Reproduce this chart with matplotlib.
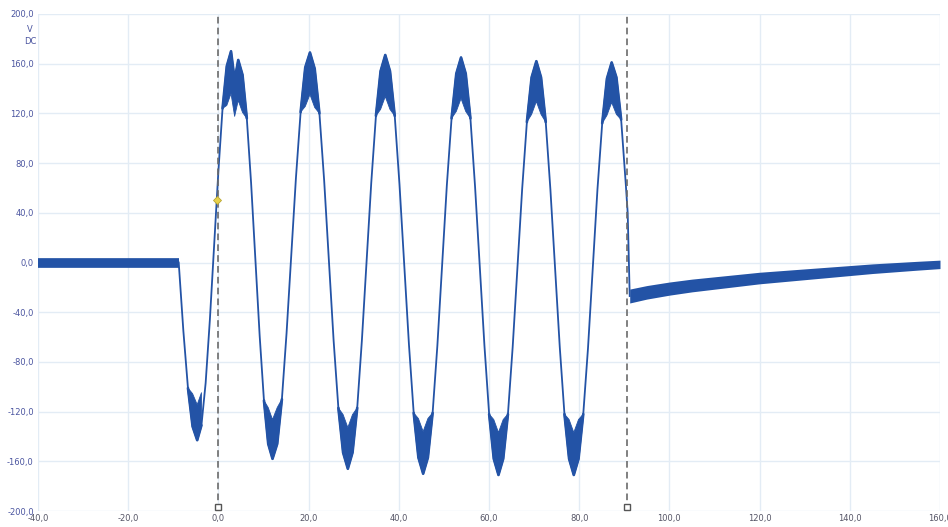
import matplotlib
matplotlib.use("Agg")
import matplotlib.pyplot as plt
import numpy as np
from matplotlib.ticker import FuncFormatter

# ---- data (time in ms, voltage in V) ----
flat_t = [-40.0, -8.8]
flat_v = [0.0, 0.0]

wave_t = [-8.8, -7.77, -6.75, -5.72,
          -4.7, -3.76, -2.83, -1.89, -0.95, -0.01, 0.92, 1.86, 2.8,
          3.6, 4.4, 5.35, 6.3, 7.25, 8.2, 9.15, 10.1, 11.05,
          12.0, 13.04, 14.08, 15.11, 16.15, 17.19, 18.23, 19.26,
          20.3, 21.35, 22.4, 23.45, 24.5, 25.55, 26.6, 27.65,
          28.7, 29.74, 30.78, 31.81, 32.85, 33.89, 34.93, 35.96,
          37.0, 38.05, 39.1, 40.15, 41.2, 42.25, 43.3, 44.35,
          45.4, 46.45, 47.5, 48.55, 49.6, 50.65, 51.7, 52.75,
          53.8, 54.84, 55.88, 56.91, 57.95, 58.99, 60.03, 61.06,
          62.1, 63.15, 64.2, 65.25, 66.3, 67.35, 68.4, 69.45,
          70.5, 71.54, 72.58, 73.61, 74.65, 75.69, 76.73, 77.76,
          78.8, 79.85, 80.9, 81.95, 83.0, 84.05, 85.1, 86.15,
          87.2, 88.25, 89.3, 90.35, 90.75, 91.2]
wave_v = [0, -55, -101, -132,
          -143, -131, -97, -46, 13.5, 73, 124, 158, 170,
          147, 163, 151, 116, 64, 2.5, -59, -111, -146,
          -158, -146, -110, -57, 5.5, 68, 121, 157,
          169, 156, 120, 66, 1.5, -63, -117, -153,
          -166, -153, -117, -63, 0.5, 64, 118, 154,
          167, 154, 118, 63, -1.5, -66, -121, -157,
          -170, -157, -121, -67, -2.5, 62, 116, 152,
          165, 152, 116, 61, -3, -67, -122, -158,
          -171, -158, -122, -68, -4.5, 59, 113, 149,
          162, 149, 113, 59, -4.5, -68, -122, -158,
          -171, -158, -122, -69, -5, 59, 112, 148,
          161, 149, 115, 62, 40, -27]

decay_t = [91.2, 95, 100, 105, 110, 115, 120, 125, 130, 135, 140, 145, 150, 155, 160]
decay_v = [-27, -24, -21, -18.5, -16.5, -14.5, -12.5, -11, -9.5, -8, -6.5, -5, -3.8, -2.6, -1.5]

cursor_x = [0.0, 90.6]
marker_pt = (-0.3, 50.0)

x_ticks = [-40, -20, 0, 20, 40, 60, 80, 100, 120, 140, 160]
y_ticks = [-200, -160, -120, -80, -40, 0, 40, 80, 120, 160, 200]

# ---- figure ----
W, H = 948, 527
fig = plt.figure(figsize=(W / 100, H / 100), dpi=100)
ax = fig.add_axes([38 / W, 1 - 511 / H, (940 - 38) / W, (511 - 14) / H])

blue = "#2353a6"
ax.set_xlim(-40, 160)
ax.set_ylim(-200, 200)
ax.set_xticks(x_ticks)
ax.set_yticks(y_ticks)
ax.grid(True, which="major", color="#e3ecf5", lw=1.0)
ax.set_axisbelow(True)
for s in ax.spines.values():
    s.set_visible(False)

fmt = FuncFormatter(lambda v, p: f"{v:.1f}".replace(".", ","))
ax.xaxis.set_major_formatter(fmt)
ax.yaxis.set_major_formatter(fmt)
ax.tick_params(which="both", length=0)
ax.tick_params(axis="y", labelsize=6, labelcolor="#4b55a0", pad=3)
ax.tick_params(axis="x", labelsize=6, labelcolor="#555566", pad=2)

# traces
ax.plot(flat_t, flat_v, color=blue, lw=7, solid_capstyle="butt")
wt = np.array(wave_t)
wv = np.array(wave_v, dtype=float)
ax.plot(wt, wv, color=blue, lw=1.3)
# noisy band around each peak and trough (tapered at both ends)
inner = np.where(np.abs(wv) >= 128, wv * 0.8, wv)
ax.fill_between(wt, wv, inner, where=np.abs(wv) >= 100, interpolate=False,
                color=blue, lw=0.6, edgecolor=blue)
mid = np.where(np.abs(wv) >= 100, wv, np.nan)
ax.plot(wt, mid, color=blue, lw=1.9, solid_capstyle="round", solid_joinstyle="round")

dt = np.array(decay_t)
dv = np.array(decay_v)
half = np.linspace(5.6, 3.4, len(dt))
ax.fill_between(dt, dv - half, dv + half, color=blue, lw=0)

# cursors
for cx in cursor_x:
    ax.axvline(cx, color="#6b6b6b", lw=1.2, dashes=(4, 2.5), zorder=5)
    ax.plot([cx], [-197], marker="s", ms=4.5, mfc="white", mec="#555555", mew=1.0,
            clip_on=False, zorder=6)

ax.plot([marker_pt[0]], [marker_pt[1]], marker="D", ms=4.5, mfc="#e8d24c",
        mec="#b9a532", mew=0.6, zorder=7)

# unit labels
fig.text(30 / W, 1 - 30 / H, "V", fontsize=6, color="#4b55a0", ha="center", va="center")
fig.text(30 / W, 1 - 42 / H, "DC", fontsize=6, color="#4b55a0", ha="center", va="center")

fig.savefig("out.png", dpi=100)
